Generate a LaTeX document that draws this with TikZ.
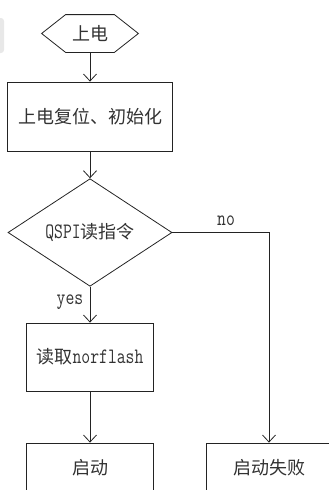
\documentclass[tikz,border=0pt]{standalone}
\usepackage{fontspec}
\newfontfamily\cjk{Noto Sans CJK SC}
\newfontfamily\lat{Latin Modern Mono}[FakeStretch=0.78]
\usetikzlibrary{shapes.geometric,arrows.meta}
\definecolor{linec}{RGB}{35,35,35}
\definecolor{textc}{RGB}{50,50,50}
\newcommand{\latx}[1]{{\lat\fontsize{22}{22}\selectfont #1}}
\begin{document}
\begin{tikzpicture}[x=1pt,y=-1pt,
  line width=0.8pt,
  every node/.style={text=textc},
  cjkfont/.style={font=\cjk\fontsize{18}{20}\selectfont},
  box/.style={draw=linec, rectangle, inner sep=0pt, cjkfont},
  flow/.style={draw=linec, -{Straight Barb[length=7pt,width=13pt]}},
  lbl/.style={font=\lat\fontsize{22}{22}\selectfont, inner sep=0pt}]
\useasboundingbox (0,0) rectangle (329,490);
\clip (0,0) rectangle (329,490);
\fill[gray!18, rounded corners=3pt] (-6,18) rectangle (4,53);
\node[cjkfont, rectangle, minimum width=48pt, minimum height=37pt, inner sep=0pt] (pw) at (90,33.5) {上电};
\draw[linec] (pw.north west) -- (pw.north east) -- ([xshift=24pt]pw.east) -- (pw.south east) -- (pw.south west) -- ([xshift=-24pt]pw.west) -- cycle;
\node[box, minimum width=165pt, minimum height=69pt] (init) at (90,116.5) {上电复位、初始化};
\node[box, diamond, minimum width=164pt, minimum height=75pt] (qspi) at (90,232.5) {\latx{QSPI}读指令};
\node[box, minimum width=127pt, minimum height=68pt] (rd) at (90,357) {读取\latx{norflash}};
\node[box, minimum width=127pt, minimum height=50pt] (boot) at (90,468) {启动};
\node[box, minimum width=126pt, minimum height=50pt] (fail) at (269,468) {启动失败};
\coordinate (corner) at (269,232.5);
\draw[flow] (pw) -- (init);
\draw[flow] (init) -- (qspi);
\draw[flow] (qspi) -- (rd);
\draw[flow] (rd) -- (boot);
\draw[flow] (qspi.east) -- (corner) -- (fail);
\node[lbl] (no) at (226,221) {no};
\node[lbl] (yes) at (70,302) {yes};
\end{tikzpicture}
\end{document}
